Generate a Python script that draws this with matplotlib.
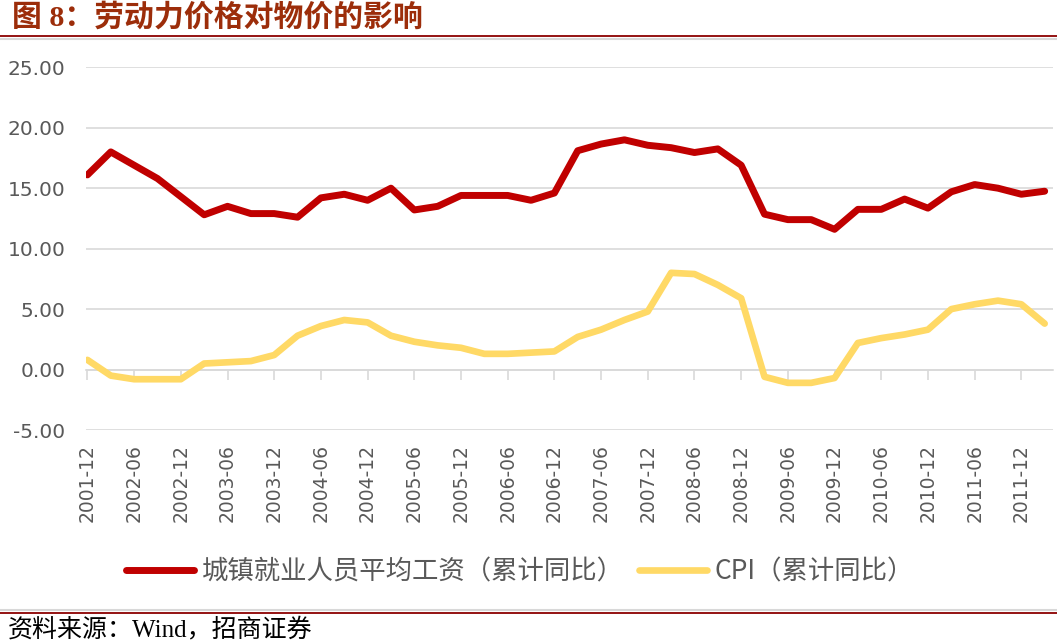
import matplotlib
matplotlib.use("Agg")
import matplotlib.pyplot as plt
from matplotlib.lines import Line2D
import pandas as pd

# 数据（季度，累计同比 %）
periods = [p.strftime("%Y-%m") for p in pd.period_range("2001-12", "2012-03", freq="Q-DEC")]
wage = [16.1, 18.0, 16.9, 15.8, 14.3, 12.8, 13.5, 12.9, 12.9, 12.6, 14.2, 14.5,
        14.0, 15.0, 13.2, 13.5, 14.4, 14.4, 14.4, 14.0, 14.6, 18.1, 18.65, 19.0,
        18.55, 18.35, 17.95, 18.25, 16.9, 12.85, 12.4, 12.4, 11.6, 13.25, 13.25, 14.1,
        13.35, 14.7, 15.3, 15.0, 14.5, 14.75]
cpi = [0.8, -0.5, -0.8, -0.8, -0.8, 0.5, 0.6, 0.7, 1.2, 2.8, 3.6, 4.1,
       3.9, 2.8, 2.3, 2.0, 1.8, 1.3, 1.3, 1.4, 1.5, 2.7, 3.3, 4.1,
       4.8, 8.0, 7.9, 7.0, 5.9, -0.6, -1.1, -1.1, -0.7, 2.2, 2.6, 2.9,
       3.3, 5.0, 5.4, 5.7, 5.4, 3.8]
yticks = [-5, 0, 5, 10, 15, 20, 25]
label_wage = "城镇就业人员平均工资（累计同比）"
label_cpi = "CPI（累计同比）"

CJK = ["Noto Sans CJK SC", "DejaVu Sans"]
SERIF = ["Liberation Serif", "Noto Sans CJK SC"]
GREY = "#595959"
GRID = "#D9D9D9"

fig = plt.figure(figsize=(10.57, 6.42), dpi=100)
ax = fig.add_axes([0.0814, 0.3302, 0.9149, 0.565])

x = list(range(len(periods)))
ax.plot(x, wage, color="#C00000", lw=5, solid_joinstyle="round",
        solid_capstyle="round", label=label_wage, zorder=3)
ax.plot(x, cpi, color="#FFD966", lw=4.8, solid_joinstyle="round",
        solid_capstyle="round", label=label_cpi, zorder=3)

ax.set_xlim(-0.06, 41.36)
ax.set_ylim(-5, 25)
ax.set_yticks(yticks)
ax.set_yticklabels(["%.2f" % v for v in yticks])
ax.yaxis.grid(True, color=GRID, lw=1.2)
ax.set_axisbelow(True)
for s in ax.spines.values():
    s.set_visible(False)
ax.tick_params(axis="y", length=0, pad=15, labelsize=14.5, labelcolor=GREY)

tick_idx = x[::2]
ax.set_xticks(tick_idx)
ax.set_xticklabels([periods[i] for i in tick_idx], rotation=90)
ax.tick_params(axis="x", length=0, pad=10, labelsize=13.5, labelcolor=GREY)

# 横轴刻度线画在 0 线上
sec = ax.secondary_xaxis(5 / 30)
sec.set_xticks(tick_idx)
sec.set_xticklabels([])
sec.tick_params(axis="x", direction="out", length=7.5, width=1.2, color=GRID)
sec.spines["bottom"].set_color(GRID)
sec.spines["bottom"].set_linewidth(1.2)
sec.spines["top"].set_visible(False)

leg = fig.legend(loc="center", bbox_to_anchor=(0.492, 0.1095), ncol=2, frameon=False,
                 prop={"family": CJK, "size": 19}, handlelength=2.55,
                 handletextpad=0.3, columnspacing=0.6)
for t in leg.get_texts():
    t.set_color(GREY)

# 标题与来源
fig.text(0.011, 0.973, "图 8：劳动力价格对物价的影响", family=SERIF,
         fontsize=21.5, fontweight="bold", color="#9C2D0A", va="center", ha="left")
fig.add_artist(Line2D([0, 1], [0.9439, 0.9439], color="#8B0000", lw=1.3))
fig.add_artist(Line2D([0, 1], [0.9395, 0.9395], color="#D8D8D8", lw=1.5))
fig.add_artist(Line2D([0, 1], [0.0500, 0.0500], color="#D8D8D8", lw=1.5))
fig.add_artist(Line2D([0, 1], [0.0452, 0.0452], color="#8B0000", lw=1.3))
fig.text(0.007, 0.019, "资料来源：Wind，招商证券", family=SERIF,
         fontsize=18, color="black", va="center", ha="left")

fig.savefig("out.png", dpi=100)
